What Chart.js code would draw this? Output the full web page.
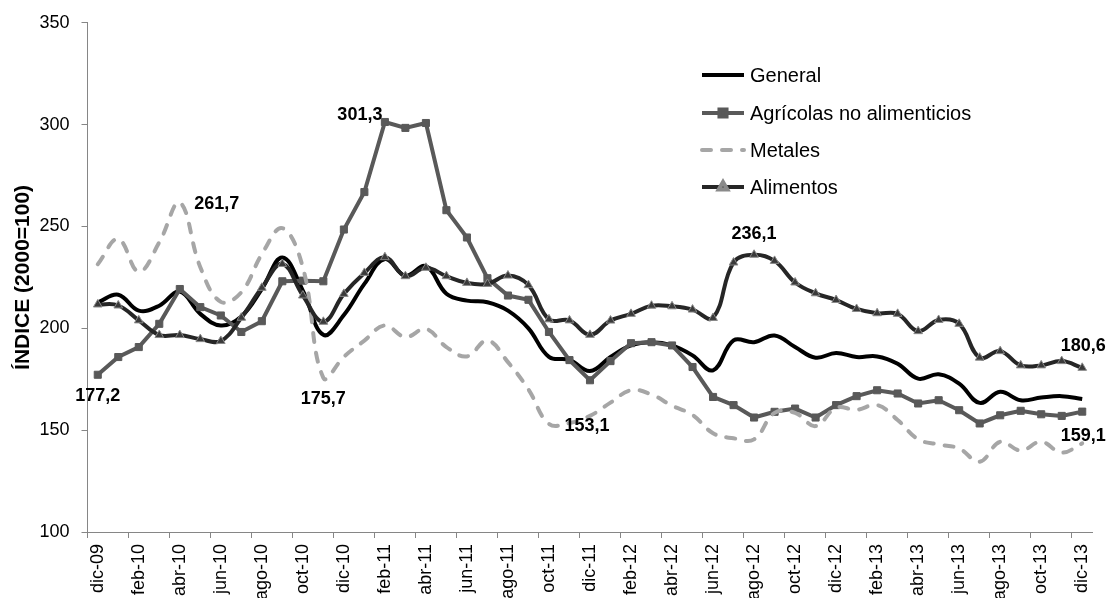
<!DOCTYPE html>
<html>
<head>
<meta charset="utf-8">
<script src="https://cdn.jsdelivr.net/npm/chart.js@4.4.0/dist/chart.umd.min.js"></script>
<style>
    body { margin: 0; background: #fff; }
    #wrap { width: 1110px; height: 598px; }
</style>
</head>
<body>
<div id="wrap"><canvas id="indices" width="1110" height="598"></canvas></div>
<script>
// months, dic-09 .. dic-13
const months = [
    'dic-09',
    'ene-10', 'feb-10', 'mar-10', 'abr-10', 'may-10', 'jun-10', 'jul-10', 'ago-10', 'sep-10', 'oct-10', 'nov-10', 'dic-10',
    'ene-11', 'feb-11', 'mar-11', 'abr-11', 'may-11', 'jun-11', 'jul-11', 'ago-11', 'sep-11', 'oct-11', 'nov-11', 'dic-11',
    'ene-12', 'feb-12', 'mar-12', 'abr-12', 'may-12', 'jun-12', 'jul-12', 'ago-12', 'sep-12', 'oct-12', 'nov-12', 'dic-12',
    'ene-13', 'feb-13', 'mar-13', 'abr-13', 'may-13', 'jun-13', 'jul-13', 'ago-13', 'sep-13', 'oct-13', 'nov-13', 'dic-13'
];

const general = [
    212.7, 216.5, 208.7, 211.1, 218.0, 207.1, 201.4, 205.8, 219.3, 234.8, 218.5, 196.8, 206.5,
    221.8, 234.0, 225.8, 230.5, 217.0, 213.6, 212.8, 208.7, 200.0, 186.0, 184.5, 179.0,
    185.9, 191.6, 193.2, 191.6, 186.7, 179.4, 194.1, 193.2, 196.5, 190.8, 185.6, 187.9,
    185.9, 186.2, 182.6, 175.3, 177.4, 172.8, 163.4, 168.8, 164.7, 166.0, 166.7, 165.3
];

const agricolas = [
    177.2, 185.9, 190.8, 202.2, 219.3, 210.4, 206.3, 198.2, 203.5, 223.1, 223.4, 223.1, 248.5,
    266.9, 301.3, 298.4, 300.8, 258.0, 244.6, 224.6, 216.1, 214.0, 198.2, 184.4, 174.5,
    183.9, 192.7, 193.2, 191.6, 181.0, 166.3, 162.3, 156.2, 159.0, 160.6, 156.2, 162.3,
    166.7, 169.6, 168.0, 163.1, 164.7, 159.8, 153.3, 157.3, 159.5, 157.8, 157.0, 159.1
];

const metales = [
    231.5, 243.8, 227.8, 242.2, 261.7, 230.0, 213.0, 217.7, 236.4, 249.2, 229.9, 175.7, 186.0,
    194.0, 201.4, 195.7, 199.7, 190.8, 186.2, 194.0, 183.4, 170.0, 153.1, 153.5, 157.0,
    163.5, 169.6, 167.5, 162.0, 157.5, 148.5, 146.0, 145.5, 158.5, 158.5, 152.0, 161.0,
    160.0, 162.3, 155.0, 145.5, 143.0, 141.0, 134.5, 144.3, 140.0, 144.3, 139.0, 143.5
];

const alimentos = [
    211.7, 211.2, 203.9, 196.7, 196.7, 194.7, 193.8, 205.2, 219.9, 231.6, 216.1, 203.2, 216.9,
    227.2, 234.9, 225.6, 229.7, 225.6, 222.3, 221.8, 225.9, 221.2, 204.4, 203.9, 196.8,
    203.8, 207.1, 211.1, 210.8, 209.2, 205.1, 232.3, 236.1, 233.1, 222.5, 217.2, 213.9,
    209.5, 207.4, 207.1, 198.6, 204.1, 202.2, 185.6, 188.8, 181.8, 181.8, 183.9, 180.6
];

const yTicks = [100, 150, 200, 250, 300, 350];

const FONT = 'Liberation Sans, Arial, sans-serif';
const AXIS_GREY = '#868686';

// labelled points: dataset index, month index, offset of the text from the point
const callouts = [
    { ds: 1, i: 14, dx: -25, dy: -7 },
    { ds: 2, i: 4, dx: 37, dy: 1 },
    { ds: 1, i: 0, dx: 0, dy: 21 },
    { ds: 2, i: 11, dx: 0, dy: 21 },
    { ds: 2, i: 22, dx: 38, dy: 2 },
    { ds: 3, i: 32, dx: 0, dy: -21 },
    { ds: 3, i: 48, dx: 1, dy: -22 },
    { ds: 1, i: 48, dx: 1, dy: 24 }
];

const calloutPlugin = {
    id: 'callouts',
    afterDatasetsDraw(chart) {
        const ctx = chart.ctx;
        ctx.save();
        ctx.font = 'bold 18px ' + FONT;
        ctx.fillStyle = '#000';
        ctx.textAlign = 'center';
        ctx.textBaseline = 'middle';
        for (let c of callouts) {
            const pt = chart.getDatasetMeta(c.ds).data[c.i];
            const value = chart.data.datasets[c.ds].data[c.i];
            const text = value.toFixed(1).replace('.', ',');
            ctx.fillText(text, pt.x + c.dx, pt.y + c.dy);
        }
        ctx.restore();
    }
};

// legend drawn inside the plot, like the original
const legendPlugin = {
    id: 'insideLegend',
    afterDraw(chart) {
        const ctx = chart.ctx;
        const x0 = 702, x1 = 744, textX = 750;
        const rows = [75, 113, 150, 187];
        ctx.save();
        chart.data.datasets.forEach((ds, k) => {
            const y = rows[k];
            ctx.strokeStyle = ds.borderColor;
            ctx.lineWidth = ds.borderWidth;
            ctx.lineCap = ds.borderDash ? 'round' : 'butt';
            ctx.setLineDash(ds.borderDash || []);
            ctx.beginPath();
            ctx.moveTo(x0, y);
            ctx.lineTo(x1, y);
            ctx.stroke();
            ctx.setLineDash([]);
            if (ds.pointRadius > 0) {
                ctx.fillStyle = ds.pointBackgroundColor;
                ctx.strokeStyle = ds.pointBorderColor;
                Chart.helpers.drawPoint(ctx, {
                    pointStyle: ds.pointStyle,
                    radius: ds.pointRadius,
                    borderWidth: ds.pointBorderWidth,
                    rotation: 0
                }, (x0 + x1) / 2, y);
            }
            ctx.fillStyle = '#000';
            ctx.font = '20px ' + FONT;
            ctx.textAlign = 'left';
            ctx.textBaseline = 'middle';
            ctx.fillText(ds.label, textX, y + 1);
        });
        ctx.restore();
    }
};

const ctx = document.getElementById('indices');

new Chart(ctx, {
    type: 'line',
    data: {
        labels: months,
        datasets: [
            {
                label: 'General',
                data: general,
                borderColor: '#000000',
                borderWidth: 4,
                pointRadius: 0,
                tension: 0.4,
                order: 4
            },
            {
                label: 'Agrícolas no alimenticios',
                data: agricolas,
                borderColor: '#595959',
                borderWidth: 4,
                pointStyle: 'rect',
                pointRadius: 5,
                pointBackgroundColor: '#595959',
                pointBorderColor: '#595959',
                pointBorderWidth: 1,
                tension: 0,
                order: 3
            },
            {
                label: 'Metales',
                data: metales,
                borderColor: '#a6a6a6',
                borderWidth: 4,
                borderDash: [9, 11],
                borderCapStyle: 'round',
                pointRadius: 0,
                tension: 0.4,
                order: 2
            },
            {
                label: 'Alimentos',
                data: alimentos,
                borderColor: '#262626',
                borderWidth: 4,
                pointStyle: 'triangle',
                pointRadius: 5,
                pointBackgroundColor: '#3a3a3a',
                pointBorderColor: '#8a8a8a',
                pointBorderWidth: 1,
                tension: 0.4,
                order: 1
            }
        ]
    },
    options: {
        responsive: false,
        animation: false,
        layout: { padding: { top: 21, right: 17, bottom: 0, left: 0 } },
        plugins: {
            legend: { display: false },
            tooltip: { enabled: false }
        },
        scales: {
            x: {
                type: 'category',
                offset: true,
                grid: {
                    offset: true,
                    drawOnChartArea: false,
                    drawTicks: true,
                    tickLength: 6,
                    color: (c) => (c.index % 2 === 0 ? AXIS_GREY : 'rgba(0,0,0,0)'),
                    tickColor: (c) => (c.index % 2 === 0 ? AXIS_GREY : 'rgba(0,0,0,0)')
                },
                border: { color: AXIS_GREY, width: 1 },
                ticks: {
                    autoSkip: false,
                    minRotation: 90,
                    maxRotation: 90,
                    padding: 6,
                    color: '#000',
                    font: { family: FONT, size: 18 },
                    callback: function (value, index) {
                        return index % 2 === 0 ? months[index] : '';
                    }
                },
                afterFit: (scale) => { scale.height = 66; }
            },
            y: {
                min: yTicks[0],
                max: yTicks[yTicks.length - 1],
                afterBuildTicks: (scale) => { scale.ticks = yTicks.map(v => ({ value: v })); },
                grid: {
                    drawOnChartArea: false,
                    drawTicks: true,
                    tickLength: 6,
                    color: AXIS_GREY
                },
                border: { color: AXIS_GREY, width: 1 },
                ticks: {
                    padding: 12,
                    color: '#000',
                    font: { family: FONT, size: 18 }
                },
                title: {
                    display: true,
                    text: 'ÍNDICE (2000=100)',
                    color: '#000',
                    font: { family: FONT, size: 21, weight: 'bold' },
                    padding: { top: 11, bottom: 0 }
                },
                afterFit: (scale) => { scale.width = 87.5; }
            }
        }
    },
    plugins: [calloutPlugin, legendPlugin]
});
</script>
</body>
</html>
